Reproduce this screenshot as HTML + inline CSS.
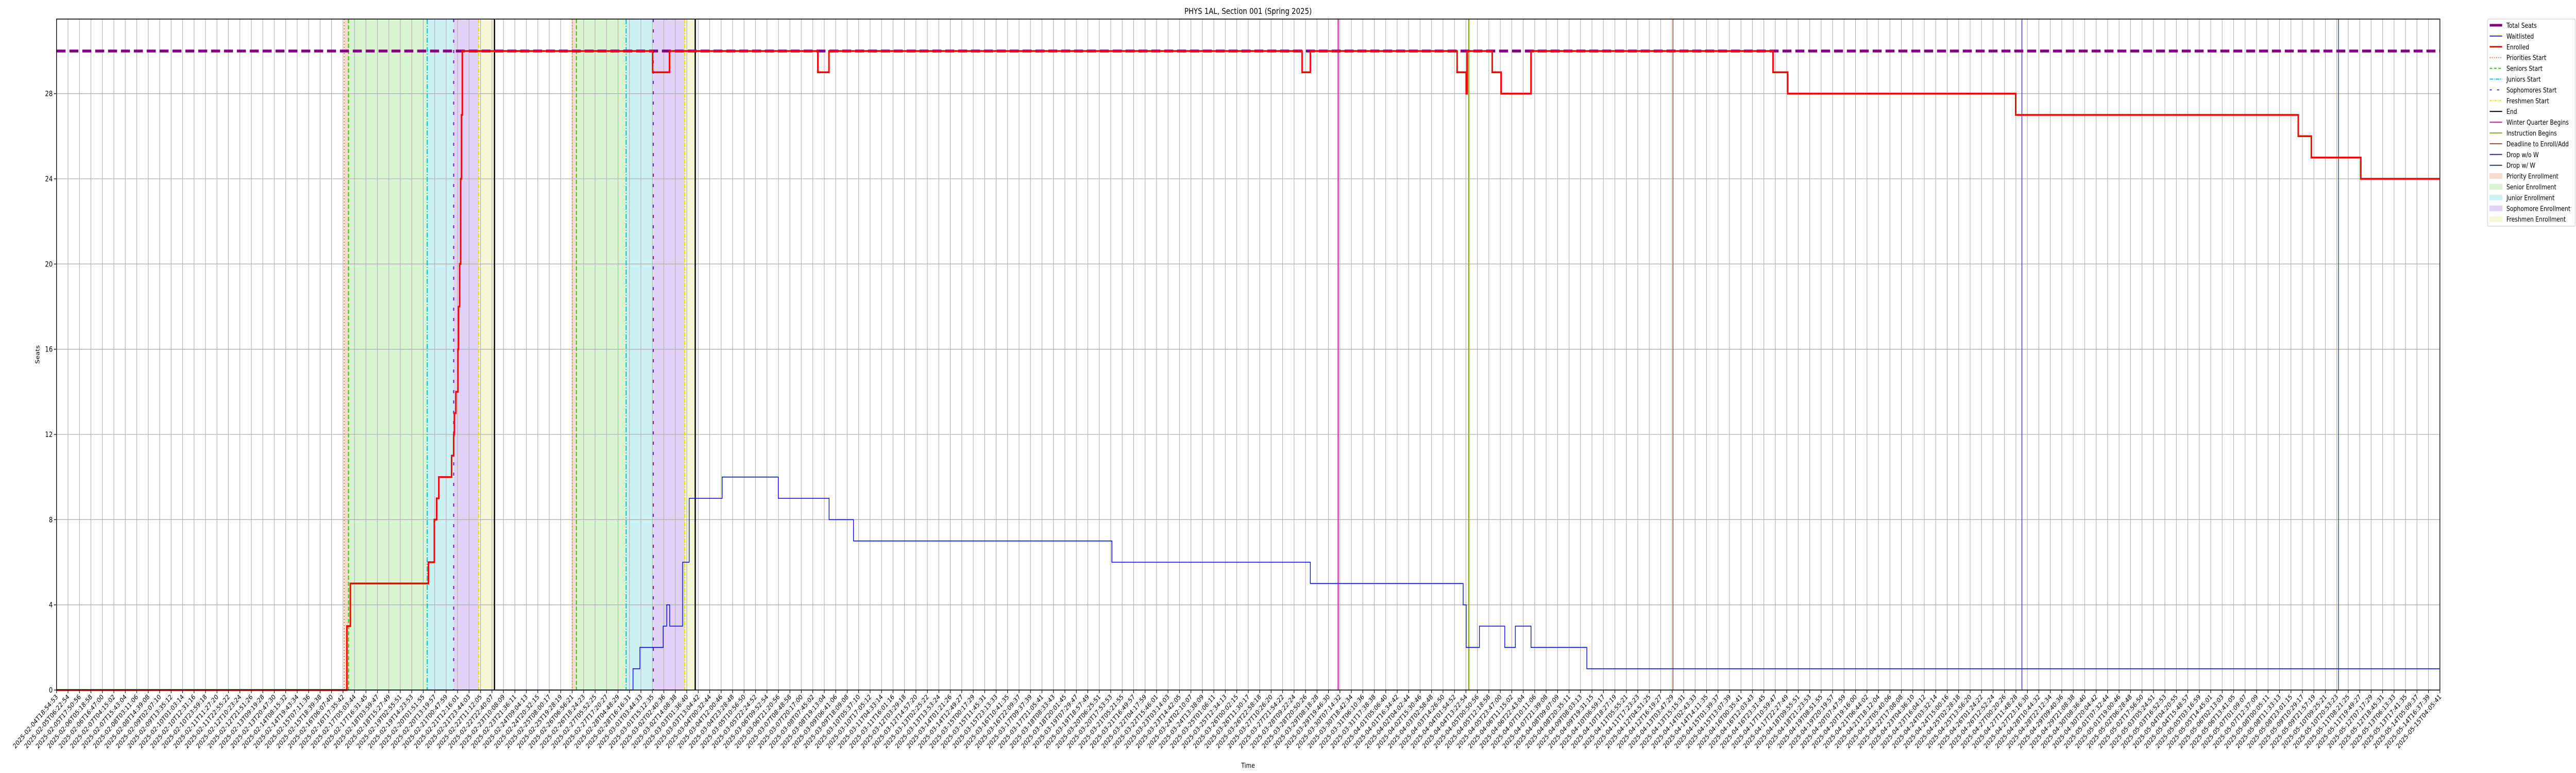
<!DOCTYPE html>
<html><head><meta charset="utf-8"><style>
html,body{margin:0;padding:0;background:#fff;width:100%;height:100%;overflow:hidden;}
svg{display:block;position:absolute;left:0;top:0;width:100vw;height:100vh;font-family:"DejaVu Sans","Liberation Sans",sans-serif;}
</style></head>
<body>
<svg id="chart" viewBox="0 0 6000 1500" preserveAspectRatio="none" xmlns="http://www.w3.org/2000/svg" overflow="hidden">
<rect x="0" y="0" width="6000" height="1500" fill="#fff"/>
<g id="bands"></g><g id="grid"></g><g id="vlines"></g><g id="series"></g><g id="axes"></g><g id="legend"></g>
<text x="2907" y="27" font-size="16" text-anchor="middle" fill="#000">PHYS 1AL, Section 001 (Spring 2025)</text>
<text x="2907" y="1490" font-size="13" text-anchor="middle" fill="#000">Time</text>
<text x="0" y="0" font-size="13" text-anchor="middle" fill="#000" transform="translate(92,688) rotate(-90)">Seats</text>
</svg>
<script>
// ---- data (x in time-index units, 0..208 ticks) ----
const totalSeats = 30;
const yTicks = [0, 4, 8, 12, 16, 20, 24, 28];
const enrolledX = [0, 25.34, 25.64, 32.45, 32.97, 33.17, 33.36, 34.48, 34.66, 34.72, 34.85, 35.03, 35.08, 35.18, 35.27, 35.34, 35.41, 52.02, 53.49, 66.44, 67.41, 108.70, 109.42, 122.23, 123.02, 123.10, 125.29, 126.07, 128.68, 149.80, 151.08, 170.98, 195.64, 196.78, 201.10, 208];
const enrolledY = [0, 3, 5, 6, 8, 9, 10, 11, 12, 13, 14, 16, 18, 20, 24, 27, 30, 29, 30, 29, 30, 29, 30, 29, 28, 30, 29, 28, 30, 29, 28, 27, 26, 25, 24, 24];
const waitX = [0, 50.31, 50.91, 52.94, 53.25, 53.51, 54.64, 55.21, 58.09, 62.99, 67.42, 69.55, 92.10, 109.42, 122.76, 123.02, 124.18, 126.39, 127.31, 128.68, 133.55, 208];
const waitY = [0, 1, 2, 3, 4, 3, 6, 9, 10, 9, 8, 7, 6, 5, 4, 2, 3, 2, 3, 2, 1, 1];
const bandNames = ["Priority Enrollment", "Senior Enrollment", "Junior Enrollment", "Sophomore Enrollment", "Freshmen Enrollment"];
const period1 = [25.10, 25.48, 32.35, 34.66, 36.84, 38.22];
const period2 = [45.00, 45.37, 49.71, 52.08, 54.82, 55.74];
const eventNames = ["Winter Quarter Begins", "Instruction Begins", "Deadline to Enroll/Add", "Drop w/o W", "Drop w/ W"];
const eventX = [111.85, 123.25, 141.08, 171.52, 199.15];
const nTicks = 209;
const tickStart = Date.UTC(2025, 1, 4, 18, 54, 53);
const tickEnd = Date.UTC(2025, 4, 15, 4, 5, 41);

// ---- scales ----
const L = 131.7, R = 5683, T = 37, B = 1339, XMAX = 208, YMAX = 31.5;
const xs = v => L + (R - L) * v / XMAX;
const ys = v => B - (B - T) * v / YMAX;
const NS = "http://www.w3.org/2000/svg";
function mk(tag, attrs, parent) {
  const e = document.createElementNS(NS, tag);
  for (const k in attrs) e.setAttribute(k, attrs[k]);
  parent.appendChild(e);
  return e;
}
const gB = document.getElementById('bands'), gG = document.getElementById('grid'),
      gV = document.getElementById('vlines'), gS = document.getElementById('series'),
      gA = document.getElementById('axes'), gL = document.getElementById('legend');

const bandColors = ["#f6dccf", "#d9f4d0", "#cdf0f2", "#e0d2f4", "#f6f7d8"];
[period1, period2].forEach((p, pi) => {
  for (let i = 0; i < 5; i++) {
    const r = mk('rect', {x: xs(p[i]), y: T, width: xs(p[i + 1]) - xs(p[i]), height: B - T, fill: bandColors[i]}, gB);
    
    
  }
});

// grid
for (let i = 0; i < nTicks; i++) {
  const l = mk('line', {x1: xs(i), x2: xs(i), y1: T, y2: B, stroke: '#b0b0b0', 'stroke-width': 1.3}, gG);
  
  
}
yTicks.forEach(v => {
  if (v === 0) return;
  const l = mk('line', {x1: L, x2: R, y1: ys(v), y2: ys(v), stroke: '#b0b0b0', 'stroke-width': 1.3}, gG);
  
  
});

// enrollment start lines
const startStyles = [
  {c: '#f07030', d: '2,4', w: 2},
  {c: '#33cc11', d: '8,4', w: 2.5},
  {c: '#00c8d2', d: '10,3,2,3', w: 2.5},
  {c: '#6a1fd6', d: '6,14', w: 2.5},
  {c: '#e0e020', d: '8,3,2,3', w: 2.5}
];
const startNames = ["priorities-start", "seniors-start", "juniors-start", "sophomores-start", "freshmen-start"];
[period1, period2].forEach((p, pi) => {
  for (let i = 0; i < 5; i++) {
    const s = startStyles[i];
    const l = mk('line', {x1: xs(p[i]), x2: xs(p[i]), y1: T, y2: B, stroke: s.c, 'stroke-width': s.w, 'stroke-dasharray': s.d}, gV);
    
    
  }
  const e = mk('line', {x1: xs(p[5]), x2: xs(p[5]), y1: T, y2: B, stroke: '#000', 'stroke-width': 3}, gV);
  
  
});
const eventColors = ['#e0179c', '#8cb01c', '#cc3a1a', '#2a2a9c', '#2a3a5a'];
const eventWidths = [2.5, 3, 1.5, 1.5, 1.5];
eventX.forEach((v, i) => {
  const l = mk('line', {x1: xs(v), x2: xs(v), y1: T, y2: B, stroke: eventColors[i], 'stroke-width': eventWidths[i]}, gV);
  
  
});

// series
const ts = mk('line', {x1: L, x2: R, y1: ys(totalSeats), y2: ys(totalSeats), stroke: '#800080', 'stroke-width': 5.5, 'stroke-dasharray': '21,9'}, gS);


function stepPath(X, Y) {
  let d = 'M' + xs(X[0]).toFixed(1) + ',' + ys(Y[0]).toFixed(1);
  for (let i = 1; i < X.length; i++) {
    d += 'L' + xs(X[i]).toFixed(1) + ',' + ys(Y[i - 1]).toFixed(1);
    d += 'L' + xs(X[i]).toFixed(1) + ',' + ys(Y[i]).toFixed(1);
  }
  return d;
}
const wl = mk('path', {d: stepPath(waitX, waitY), fill: 'none', stroke: '#0000ff', 'stroke-width': 1.6, 'stroke-linejoin': 'miter'}, gS);


const el = mk('path', {d: stepPath(enrolledX, enrolledY), fill: 'none', stroke: '#ff0000', 'stroke-width': 3.5, 'stroke-linejoin': 'miter'}, gS);



// axes
const frame = mk('rect', {x: L, y: T, width: R - L, height: B - T, fill: 'none', stroke: '#000', 'stroke-width': 1.6}, gA);


yTicks.forEach(v => {
  mk('line', {x1: L - 6, x2: L, y1: ys(v), y2: ys(v), stroke: '#000', 'stroke-width': 1.3}, gA);
  const t = mk('text', {x: L - 9, y: ys(v) + 5, 'font-size': 14, 'text-anchor': 'end', fill: '#000'}, gA);
  t.textContent = String(v);
  
  
});
const pad = n => String(n).padStart(2, '0');
const tickLabels = [];
for (let i = 0; i < nTicks; i++) {
  const d = new Date(tickStart + (tickEnd - tickStart) * i / (nTicks - 1));
  tickLabels.push(d.getUTCFullYear() + '-' + pad(d.getUTCMonth() + 1) + '-' + pad(d.getUTCDate()) + 'T' + pad(d.getUTCHours()) + ':' + pad(d.getUTCMinutes()) + ':' + pad(d.getUTCSeconds()));
}
tickLabels.forEach((lab, i) => {
  const x = xs(i);
  mk('line', {x1: x, x2: x, y1: B, y2: B + 6, stroke: '#000', 'stroke-width': 1.3}, gA);
  const t = mk('text', {x: 0, y: 0, 'font-size': 13, 'text-anchor': 'end', fill: '#000', transform: 'translate(' + (x + 4) + ',' + (B + 14) + ') rotate(-45)'}, gA);
  t.textContent = lab;
  
  
});

// legend
const lb = mk('rect', {x: 5794, y: 37, width: 204, height: 402, fill: '#fff', stroke: '#d0d0d0', 'stroke-width': 1.3, rx: 3}, gL);


const legItems = [
  ['Total Seats', 'line', '#800080', 5, null],
  ['Waitlisted', 'line', '#0000ff', 1.6, null],
  ['Enrolled', 'line', '#ff0000', 3, null],
  ['Priorities Start', 'line', '#f07030', 2, '2,3'],
  ['Seniors Start', 'line', '#33cc11', 2, '6,4'],
  ['Juniors Start', 'line', '#00c8d2', 2, '8,2,2,2'],
  ['Sophomores Start', 'line', '#6a1fd6', 2, '5,12'],
  ['Freshmen Start', 'line', '#e0e020', 2, '5,2,2,2'],
  ['End', 'line', '#000', 2, null],
  ['Winter Quarter Begins', 'line', '#e0179c', 2, null],
  ['Instruction Begins', 'line', '#8cb01c', 2, null],
  ['Deadline to Enroll/Add', 'line', '#cc3a1a', 2, null],
  ['Drop w/o W', 'line', '#2a2a9c', 2, null],
  ['Drop w/ W', 'line', '#2a3a5a', 2, null],
  ['Priority Enrollment', 'patch', '#f6dccf'],
  ['Senior Enrollment', 'patch', '#d9f4d0'],
  ['Junior Enrollment', 'patch', '#cdf0f2'],
  ['Sophomore Enrollment', 'patch', '#e0d2f4'],
  ['Freshmen Enrollment', 'patch', '#f6f7d8']
];
legItems.forEach((it, i) => {
  const y = 49 + i * 20.9;
  const g = mk('g', {}, gL);
  
  
  if (it[1] === 'line') {
    const a = {x1: 5799, x2: 5828, y1: y, y2: y, stroke: it[2], 'stroke-width': it[3]};
    if (it[4]) a['stroke-dasharray'] = it[4];
    mk('line', a, g);
  } else {
    mk('rect', {x: 5799, y: y - 5, width: 29, height: 10, fill: it[2], stroke: it[2]}, g);
  }
  const t = mk('text', {x: 5838, y: y + 5, 'font-size': 13, fill: '#000'}, g);
  t.textContent = it[0];
});
</script>
</body></html>
